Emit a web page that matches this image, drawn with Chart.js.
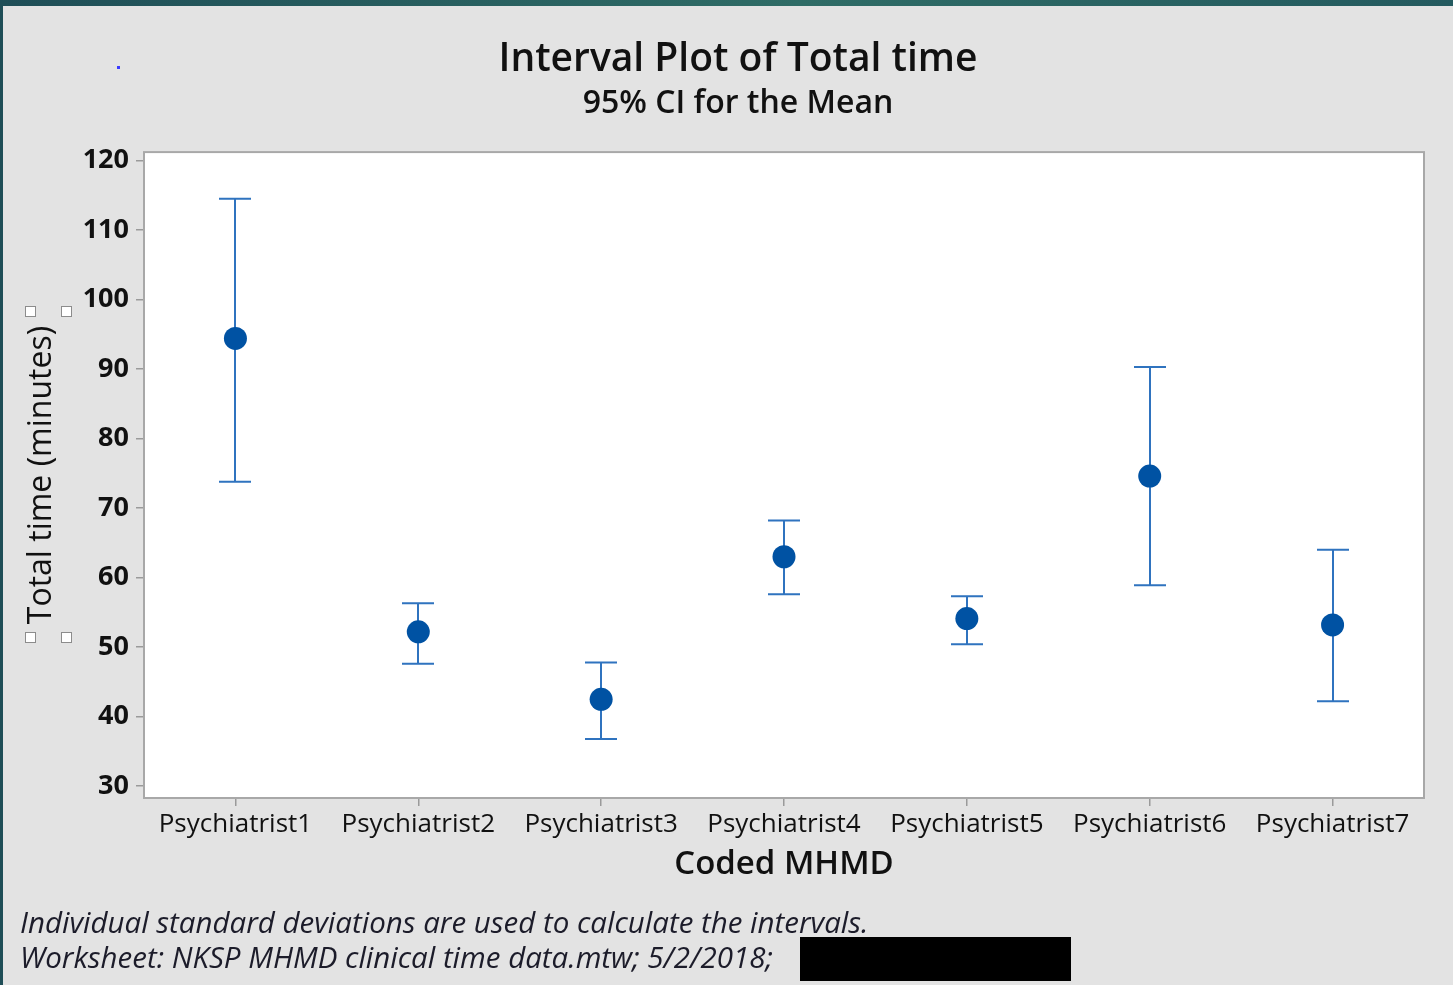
<!DOCTYPE html>
<html>
<head>
  <title>Interval Plot of Total time</title>
  <script src="https://cdn.jsdelivr.net/npm/chart.js"></script>
  <style>
    body {
      margin: 0;
      background-color: #e3e3e3;
      overflow: hidden;
      font-family: "Open Sans", sans-serif;
    }
    .frame {
      position: relative;
      width: 1453px;
      height: 985px;
    }
    #chart {
      position: absolute;
      left: 0;
      top: 0;
    }
    .topbar {
      position: absolute;
      left: 0; top: 0;
      width: 1453px; height: 6px;
      background: linear-gradient(90deg, #1f4e57, #2f6c66 55%, #245a5f);
    }
    .leftbar {
      position: absolute;
      left: 0; top: 0;
      width: 3px; height: 985px;
      background: #1f4e57;
    }
    .handle {
      position: absolute;
      width: 9px; height: 9px;
      background: #fff;
      border: 1px solid #8c8c8c;
    }
    .dot {
      position: absolute;
      left: 117px; top: 66px;
      width: 3px; height: 3px;
      background: #3a3aff;
    }
    .note {
      position: absolute;
      left: 20px;
      font-style: italic;
      font-size: 29.5px;
      line-height: 40px;
      color: #1c1c2a;
      white-space: nowrap;
    }
    .redact {
      position: absolute;
      left: 800px; top: 937px;
      width: 271px; height: 44px;
      background: #000;
    }
  </style>
</head>
<body>
<div class="frame">
  <canvas id="chart" width="1453" height="985"></canvas>
  <div class="topbar"></div>
  <div class="leftbar"></div>
  <div class="dot"></div>
  <div class="handle" style="left:25px;top:306px"></div>
  <div class="handle" style="left:61px;top:306px"></div>
  <div class="handle" style="left:25px;top:632px"></div>
  <div class="handle" style="left:61px;top:632px"></div>
  <div class="note" style="top:902px">Individual standard deviations are used to calculate the intervals.</div>
  <div class="note" style="top:937px">Worksheet: NKSP MHMD clinical time data.mtw; 5/2/2018;</div>
  <div class="redact"></div>
</div>

<script>
  // values
  const psychiatrists = ["Psychiatrist1", "Psychiatrist2", "Psychiatrist3", "Psychiatrist4",
                         "Psychiatrist5", "Psychiatrist6", "Psychiatrist7"];
  const meanTime = [94.4, 52.2, 42.5, 63.0, 54.1, 74.6, 53.2];
  const upperCI = [114.5, 56.3, 47.8, 68.2, 57.3, 90.3, 64.0];
  const lowerCI = [73.8, 47.6, 36.8, 57.6, 50.4, 58.9, 42.2];
  const yTicks = [30, 40, 50, 60, 70, 80, 90, 100, 110, 120];

  // white plot box with grey frame
  const plotBox = {
    id: "plotBox",
    beforeDraw(chart) {
      const a = chart.chartArea, ctx = chart.ctx;
      ctx.save();
      ctx.fillStyle = "#ffffff";
      ctx.fillRect(a.left, a.top, a.right - a.left, a.bottom - a.top);
      ctx.restore();
    },
    afterDraw(chart) {
      const a = chart.chartArea, ctx = chart.ctx;
      ctx.save();
      ctx.strokeStyle = "#a8a8a8";
      ctx.lineWidth = 2;
      ctx.strokeRect(a.left, a.top, a.right - a.left, a.bottom - a.top);
      ctx.restore();
    }
  };

  // CI whiskers drawn under the mean symbols
  const intervals = {
    id: "intervals",
    beforeDatasetsDraw(chart) {
      const x = chart.scales.x, y = chart.scales.y, ctx = chart.ctx;
      ctx.save();
      ctx.strokeStyle = "#2f73bf";
      ctx.lineWidth = 2;
      for (let i = 0; i < psychiatrists.length; i++) {
        const px = Math.round(x.getPixelForValue(i));
        const top = y.getPixelForValue(upperCI[i]);
        const bot = y.getPixelForValue(lowerCI[i]);
        ctx.beginPath();
        ctx.moveTo(px, top); ctx.lineTo(px, bot);
        ctx.moveTo(px - 16, top); ctx.lineTo(px + 16, top);
        ctx.moveTo(px - 16, bot); ctx.lineTo(px + 16, bot);
        ctx.stroke();
      }
      ctx.restore();
    }
  };

  new Chart(document.getElementById("chart"), {
    type: "line",
    data: {
      labels: psychiatrists,
      datasets: [{
        data: meanTime,
        showLine: false,
        pointRadius: 11.5,
        pointBackgroundColor: "#0052a3",
        pointBorderWidth: 0
      }]
    },
    plugins: [plotBox, intervals],
    options: {
      responsive: false,
      animation: false,
      events: [],
      layout: { padding: { left: 52, right: 29, top: 0, bottom: 97 } },
      plugins: {
        legend: { display: false },
        tooltip: { enabled: false },
        title: {
          display: true,
          text: "Interval Plot of Total time",
          color: "#111",
          font: { family: "Open Sans", size: 39, weight: "600" },
          padding: { top: 36.6, bottom: 0 }
        },
        subtitle: {
          display: true,
          text: "95% CI for the Mean",
          color: "#111",
          font: { family: "Open Sans", size: 32, weight: "600" },
          padding: { top: 1, bottom: 29.3 }
        }
      },
      scales: {
        x: {
          type: "category",
          offset: true,
          afterFit(s) { s.height = 90; },
          border: { display: false },
          grid: { display: true, drawOnChartArea: false, offset: false, tickLength: 8, color: "#9a9a9a", lineWidth: 1.5 },
          ticks: { color: "#111", padding: 3, maxRotation: 0, font: { family: "Open Sans", size: 26 } },
          title: {
            display: true,
            text: "Coded MHMD",
            color: "#111",
            font: { family: "Open Sans", size: 33, weight: "600" },
            padding: { top: 0, bottom: 3.2 }
          }
        },
        y: {
          min: 28.3,
          max: 121.2,
          afterFit(s) { s.width = 92; },
          afterBuildTicks(s) { s.ticks = yTicks.map(v => ({ value: v })); },
          border: { display: false },
          grid: { display: true, drawOnChartArea: false, tickLength: 8, color: "#9a9a9a", lineWidth: 1.5 },
          ticks: { color: "#111", padding: 7, font: { family: "Open Sans", size: 27, weight: "bold" } },
          title: {
            display: true,
            text: "Total time (minutes)",
            color: "#111",
            font: { family: "Open Sans", size: 32 },
            padding: { top: -29.2, bottom: 0 }
          }
        }
      }
    }
  });
</script>
</body>
</html>
